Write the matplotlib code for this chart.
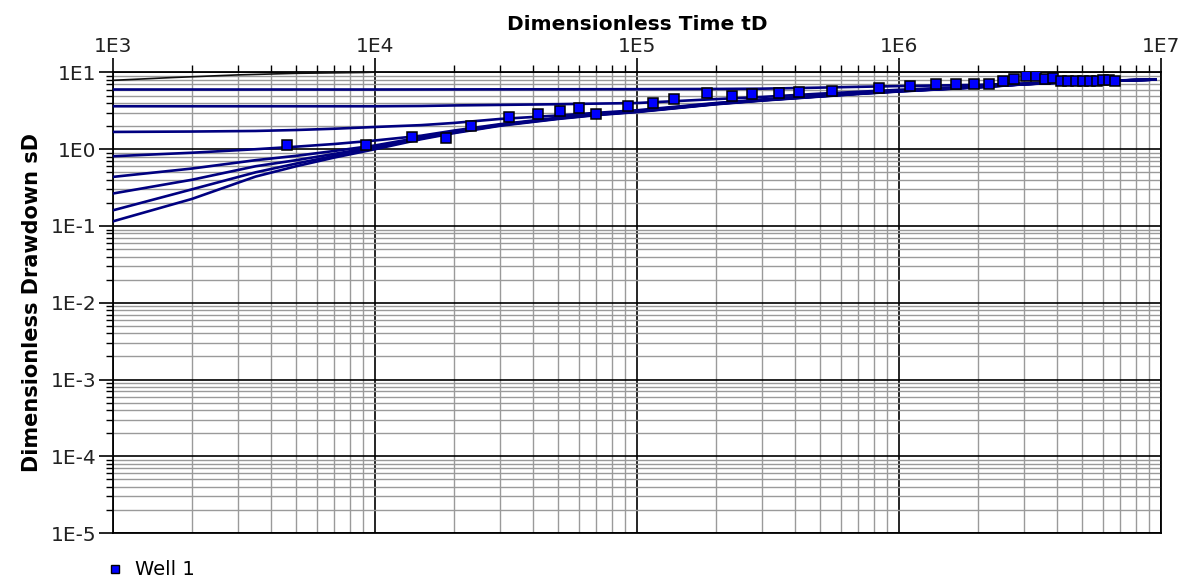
import numpy as np
import matplotlib
matplotlib.use("Agg")
import matplotlib.pyplot as plt
from matplotlib.ticker import FixedLocator, FuncFormatter, NullFormatter
from matplotlib.lines import Line2D

plt.rcParams['font.family'] = ['DejaVu Sans']

# --- type curve data (dimensionless time / drawdown) ---
td_grid = [1e3, 2e3, 3.5e3, 5e3, 7e3, 1e4, 1.5e4, 2e4, 3e4, 5e4, 7e4,
           1e5, 2e5, 3e5, 5e5, 7e5, 1e6, 2e6, 3e6, 5e6, 9.5e6]

curve_1 = [0.115, 0.225, 0.44, 0.60, 0.78, 1.00, 1.35, 1.62, 2.02, 2.48, 2.78,
           3.05, 3.85, 4.30, 4.85, 5.25, 5.65, 6.40, 7.00, 7.60, 8.08]
curve_2 = [0.16, 0.30, 0.50, 0.65, 0.82, 1.04, 1.38, 1.65, 2.05, 2.51, 2.81,
           3.08, 3.88, 4.33, 4.88, 5.28, 5.68, 6.42, 7.02, 7.62, 8.08]
curve_3 = [0.265, 0.40, 0.60, 0.72, 0.87, 1.07, 1.40, 1.67, 2.07, 2.53, 2.83,
           3.10, 3.90, 4.35, 4.90, 5.30, 5.70, 6.44, 7.03, 7.62, 8.08]
curve_4 = [0.436, 0.56, 0.72, 0.82, 0.95, 1.12, 1.43, 1.70, 2.08, 2.54, 2.85,
           3.12, 3.92, 4.37, 4.92, 5.32, 5.72, 6.45, 7.04, 7.63, 8.08]
curve_5 = [0.81, 0.90, 1.00, 1.08, 1.17, 1.30, 1.50, 1.75, 2.12, 2.57, 2.88,
           3.15, 3.95, 4.40, 4.95, 5.35, 5.75, 6.47, 7.05, 7.63, 8.08]
curve_6 = [1.68, 1.70, 1.73, 1.78, 1.85, 1.95, 2.06, 2.20, 2.48, 2.75, 2.98,
           3.22, 4.00, 4.45, 5.00, 5.40, 5.80, 6.50, 7.07, 7.64, 8.08]
curve_7 = [3.63, 3.63, 3.63, 3.63, 3.63, 3.63, 3.66, 3.72, 3.78, 3.86, 3.93,
           4.00, 4.50, 4.80, 5.30, 5.60, 5.95, 6.60, 7.10, 7.66, 8.08]
curve_8 = [6.00, 6.00, 6.00, 6.00, 6.00, 6.00, 6.01, 6.02, 6.03, 6.04, 6.05,
           6.06, 6.10, 6.15, 6.35, 6.50, 6.65, 6.90, 7.20, 7.70, 8.08]
type_curves = [curve_1, curve_2, curve_3, curve_4, curve_5, curve_6, curve_7, curve_8]

# upper curve, runs off the top of the plot
top_td = [1e3, 1.7e3, 3e3, 5e3, 9e3, 1.5e4]
top_sd = [7.9, 8.6, 9.3, 9.75, 10.0, 10.5]

# --- observed data: Well 1 ---
well_td = [4625, 9215, 13800, 18600, 23200, 32400, 41800, 50700, 60100, 69600,
           92100, 115000, 139000, 184600, 231000, 275500, 347500, 415000, 553000,
           836000, 1.104e6, 1.387e6, 1.654e6, 1.938e6, 2.206e6, 2.488e6, 2.756e6,
           3.043e6, 3.33e6, 3.61e6, 3.86e6, 4.14e6, 4.43e6, 4.72e6, 5.05e6,
           5.36e6, 5.71e6, 6.02e6, 6.33e6, 6.67e6]
well_sd = [1.15, 1.15, 1.43, 1.42, 2.01, 2.61, 2.86, 3.19, 3.45, 2.86,
           3.66, 4.01, 4.57, 5.47, 4.90, 5.25, 5.47, 5.64, 5.81,
           6.36, 6.67, 7.08, 7.02, 7.08, 7.08, 7.75, 8.15,
           8.92, 8.92, 8.23, 8.48, 7.84, 7.84, 7.84, 7.84,
           7.84, 7.84, 8.08, 7.91, 7.84]

# axis decades
x_decades = [3, 4, 5, 6, 7]
y_decades = [-5, -4, -3, -2, -1, 0, 1]

fig = plt.figure(figsize=(11.88, 5.84), dpi=100)
ax = fig.add_axes([0.0951, 0.0873, 0.8822, 0.7886])

for sd in type_curves:
    ax.plot(td_grid, sd, color='#000080', lw=1.9, zorder=3)
ax.plot(top_td, top_sd, color='#111111', lw=1.2, zorder=3)

ax.plot(well_td, well_sd, linestyle='none', marker='s', markersize=6.5,
        markerfacecolor='#0000ff', markeredgecolor='black', markeredgewidth=1.1,
        zorder=4)

ax.set_xscale('log')
ax.set_yscale('log')
ax.set_xlim(1e3, 1e7)
ax.set_ylim(1e-5, 1e1)

fmt = FuncFormatter(lambda v, p: "1E%d" % int(round(np.log10(v))))
for axis, decs in ((ax.xaxis, x_decades), (ax.yaxis, y_decades)):
    major = [10.0 ** d for d in decs]
    minor = [m * 10.0 ** d for d in decs[:-1] for m in range(2, 10)]
    axis.set_major_locator(FixedLocator(major))
    axis.set_minor_locator(FixedLocator(minor))
    axis.set_major_formatter(fmt)
    axis.set_minor_formatter(NullFormatter())

ax.xaxis.tick_top()
ax.xaxis.set_label_position('top')
ax.tick_params(axis='x', which='both', top=True, bottom=False, direction='out')
ax.tick_params(axis='y', which='both', left=True, right=False, direction='out')
ax.tick_params(which='major', length=10, width=1.2, labelsize=14.5,
               labelcolor='#222222', pad=2)
ax.tick_params(which='minor', length=5, width=1)

ax.grid(which='major', color='black', lw=1.2, zorder=1)
ax.grid(which='minor', color='#9a9a9a', lw=1.0, zorder=1)
ax.set_axisbelow(True)
for s in ax.spines.values():
    s.set_color('black')
    s.set_linewidth(1.3)

ax.set_xlabel("Dimensionless Time tD", fontsize=14.5, fontweight='bold', labelpad=5)
ax.set_ylabel("Dimensionless Drawdown sD", fontsize=15, fontweight='bold', labelpad=6)

handle = Line2D([], [], linestyle='none', marker='s', markersize=6,
                markerfacecolor='#0000ff', markeredgecolor='black')
fig.legend(handles=[handle], labels=['Well 1'], loc='center left',
           bbox_to_anchor=(0.079, 0.024), frameon=False, fontsize=14,
           handlelength=0.8, handletextpad=0.6, borderpad=0.2)

fig.savefig("out.png", dpi=100)
